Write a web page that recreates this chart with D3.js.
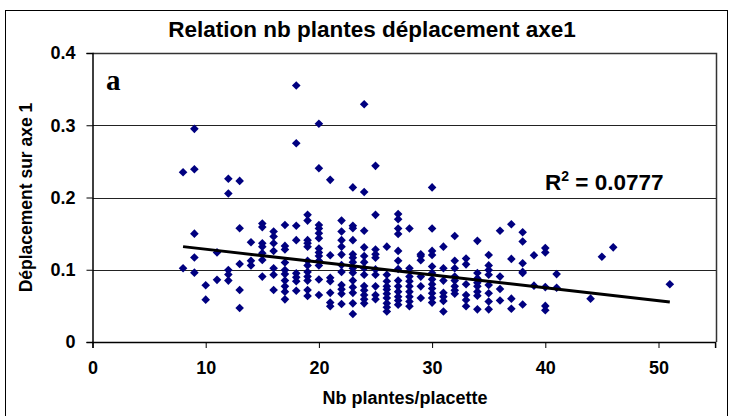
<!DOCTYPE html>
<html>
<head>
<meta charset="utf-8">
<script src="https://cdn.jsdelivr.net/npm/d3@7"></script>
<style>
  html, body { margin: 0; padding: 0; background: #fff; }
  svg { display: block; }
</style>
</head>
<body>
<div id="chart"></div>
<script>
// ---- Data ----
const chartTitle = "Relation nb plantes déplacement axe1";
const xTitle = "Nb plantes/placette";
const yTitle = "Déplacement sur axe 1";
const panelLabel = "a";
const r2Label = "0.0777";

const xTicks = [0, 10, 20, 30, 40, 50];
const yTicks = [0, 0.1, 0.2, 0.3, 0.4];

// number of plants per plot (one entry per column of points)
const nbPlantes = [8, 9, 10, 11, 12, 13, 14, 15, 16, 17, 18, 19, 20, 21, 22, 23, 24, 25, 26, 27, 28, 29, 30,
                   31, 32, 33, 34, 35, 36, 37, 38, 39, 40, 41, 44, 45, 46, 51];
// displacement values for each column above
const deplacement = [
  [0.235, 0.102],
  [0.295, 0.239, 0.150, 0.117, 0.096],
  [0.0785, 0.0586],
  [0.124, 0.086],
  [0.226, 0.2055, 0.0997, 0.0935, 0.085],
  [0.223, 0.1575, 0.108, 0.072, 0.047],
  [0.138, 0.1125, 0.106],
  [0.164, 0.159, 0.1366, 0.132, 0.123, 0.1136, 0.0905],
  [0.153, 0.146, 0.1366, 0.126, 0.102, 0.093, 0.072],
  [0.162, 0.133, 0.128, 0.110, 0.0995, 0.094, 0.085, 0.077, 0.0697, 0.059],
  [0.355, 0.275, 0.161, 0.141, 0.095, 0.0895, 0.084, 0.071],
  [0.176, 0.168, 0.141, 0.1366, 0.132, 0.1125, 0.106, 0.097, 0.0905, 0.085, 0.072, 0.0637],
  [0.302, 0.2405, 0.162, 0.157, 0.1505, 0.1435, 0.1295, 0.124, 0.119, 0.1125, 0.106, 0.0865, 0.065],
  [0.2244, 0.120, 0.089, 0.084, 0.068, 0.0545, 0.0494],
  [0.168, 0.153, 0.141, 0.132, 0.121, 0.1065, 0.097, 0.0789, 0.073, 0.0667, 0.0525],
  [0.214, 0.161, 0.1575, 0.141, 0.1215, 0.1167, 0.1105, 0.102, 0.096, 0.085, 0.0757, 0.068, 0.0535, 0.0388],
  [0.329, 0.2077, 0.154, 0.131, 0.119, 0.1105, 0.102, 0.093, 0.0775, 0.0715, 0.065, 0.0591, 0.0535],
  [0.2438, 0.176, 0.128, 0.1215, 0.1167, 0.1005, 0.093, 0.077, 0.065, 0.0591],
  [0.132, 0.093, 0.084, 0.077, 0.0725, 0.0667, 0.061, 0.0535, 0.048, 0.0422],
  [0.177, 0.170, 0.157, 0.1495, 0.1261, 0.1125, 0.101, 0.085, 0.077, 0.0697, 0.0628, 0.0575, 0.0517],
  [0.157, 0.102, 0.0905, 0.084, 0.077, 0.0697, 0.0628, 0.056, 0.0494],
  [0.1215, 0.119, 0.1133, 0.0905, 0.077, 0.061],
  [0.214, 0.157, 0.1261, 0.1205, 0.1045, 0.0955, 0.0867, 0.080, 0.074, 0.0674, 0.061, 0.0545],
  [0.132, 0.102, 0.085, 0.068, 0.0628, 0.0569, 0.0422],
  [0.1468, 0.1125, 0.102, 0.0905, 0.085, 0.077, 0.0715, 0.0667],
  [0.1154, 0.1075, 0.080, 0.065, 0.0582, 0.0494],
  [0.140, 0.0955, 0.088, 0.082, 0.077, 0.0697, 0.064, 0.0452],
  [0.1205, 0.106, 0.0995, 0.093, 0.0789, 0.0674, 0.056, 0.0452],
  [0.154, 0.0905, 0.0733, 0.0575],
  [0.163, 0.115, 0.060, 0.046],
  [0.152, 0.139, 0.109, 0.097, 0.0955, 0.052],
  [0.120, 0.078],
  [0.130, 0.124, 0.076, 0.050, 0.044],
  [0.094, 0.075],
  [0.060],
  [0.118],
  [0.131],
  [0.080]
];

// linear trend line (x, y at both ends)
const trendX = [8, 51];
const trendY = [0.132, 0.0555];

// ---- Layout ----
const W = 731, H = 416;
const plot = { left: 92.5, right: 716.5, top: 53, bottom: 342 };
const SANS = "'Liberation Sans', Arial, Helvetica, sans-serif";
const SERIF = "'Liberation Serif', 'Times New Roman', serif";

const svg = d3.select("#chart").append("svg")
  .attr("width", W).attr("height", H)
  .style("font-family", SANS).style("font-weight", "bold");

svg.append("rect").attr("x", 0).attr("y", 0).attr("width", W).attr("height", H).attr("fill", "#fff");

// outer chart frame (bottom edge lies beyond the picture)
svg.append("rect")
  .attr("x", 5.5).attr("y", 10.5).attr("width", 722).attr("height", 412)
  .attr("fill", "none").attr("stroke", "#000").attr("stroke-width", 1);

const x = d3.scaleLinear().domain([0, 55]).range([plot.left, plot.left + 55 * 11.32]);
const y = d3.scaleLinear().domain([0, 0.4]).range([plot.bottom, plot.top]);

// gridlines
svg.append("g").selectAll("line")
  .data(yTicks.filter(v => v > 0 && v < 0.4))
  .join("line")
  .attr("x1", plot.left).attr("x2", plot.right)
  .attr("y1", d => Math.round(y(d)) + 0.5).attr("y2", d => Math.round(y(d)) + 0.5)
  .attr("stroke", "#222").attr("stroke-width", 1);

// plot border (top + right)
svg.append("path")
  .attr("d", `M${plot.left},${plot.top + 0.5}H${plot.right}V${plot.bottom}`)
  .attr("fill", "none").attr("stroke", "#333").attr("stroke-width", 1.5);

// axes
const xAxis = d3.axisBottom(x).tickValues(xTicks).tickSize(6).tickPadding(13).tickFormat(d3.format("d"));
const yAxis = d3.axisLeft(y).tickValues(yTicks).tickSize(6).tickPadding(11).tickFormat(d => d === 0 ? "0" : d3.format(".1f")(d));

const gx = svg.append("g").attr("transform", `translate(0,${plot.bottom})`).call(xAxis);
const gy = svg.append("g").attr("transform", `translate(${plot.left},0)`).call(yAxis);
[gx, gy].forEach(g => {
  g.attr("font-family", null).attr("font-size", null);
  g.select(".domain").attr("stroke", "#000").attr("stroke-width", 1.5);
  g.selectAll(".tick line").attr("stroke", "#000").attr("stroke-width", 1);
  g.selectAll(".tick text")
    .style("font-size", "18px").style("font-weight", "bold").style("font-family", SANS)
    .attr("fill", "#000");
});

// points
const points = [];
nbPlantes.forEach((n, i) => deplacement[i].forEach(v => points.push({ n, v })));
const diamond = "M0,-4.3L4.3,0L0,4.3L-4.3,0Z";
svg.append("g").selectAll("path")
  .data(points)
  .join("path")
  .attr("d", diamond)
  .attr("transform", d => `translate(${x(d.n)},${y(d.v)})`)
  .attr("fill", "#000080");

// trend line
svg.append("line")
  .attr("x1", x(trendX[0])).attr("y1", y(trendY[0]))
  .attr("x2", x(trendX[1])).attr("y2", y(trendY[1]))
  .attr("stroke", "#000").attr("stroke-width", 3);

// title
svg.append("text")
  .attr("x", 372).attr("y", 37)
  .attr("text-anchor", "middle").style("font-size", "22.5px")
  .text(chartTitle);

// axis titles
svg.append("text")
  .attr("x", 405).attr("y", 404)
  .attr("text-anchor", "middle").style("font-size", "18px")
  .text(xTitle);

svg.append("text")
  .attr("transform", `translate(32,${(plot.top + plot.bottom) / 2}) rotate(-90)`)
  .attr("text-anchor", "middle").style("font-size", "17.5px")
  .text(yTitle);

// panel label
svg.append("text")
  .attr("x", 106).attr("y", 90)
  .style("font-family", SERIF).style("font-size", "29px").style("font-weight", "bold")
  .text(panelLabel);

// R² label
const r2 = svg.append("text")
  .attr("x", 545).attr("y", 190)
  .style("font-size", "22.5px");
r2.append("tspan").text("R");
r2.append("tspan").style("font-size", "14px").attr("dy", -9).text("2");
r2.append("tspan").attr("dy", 9).text(" = " + r2Label);
</script>
</body>
</html>
